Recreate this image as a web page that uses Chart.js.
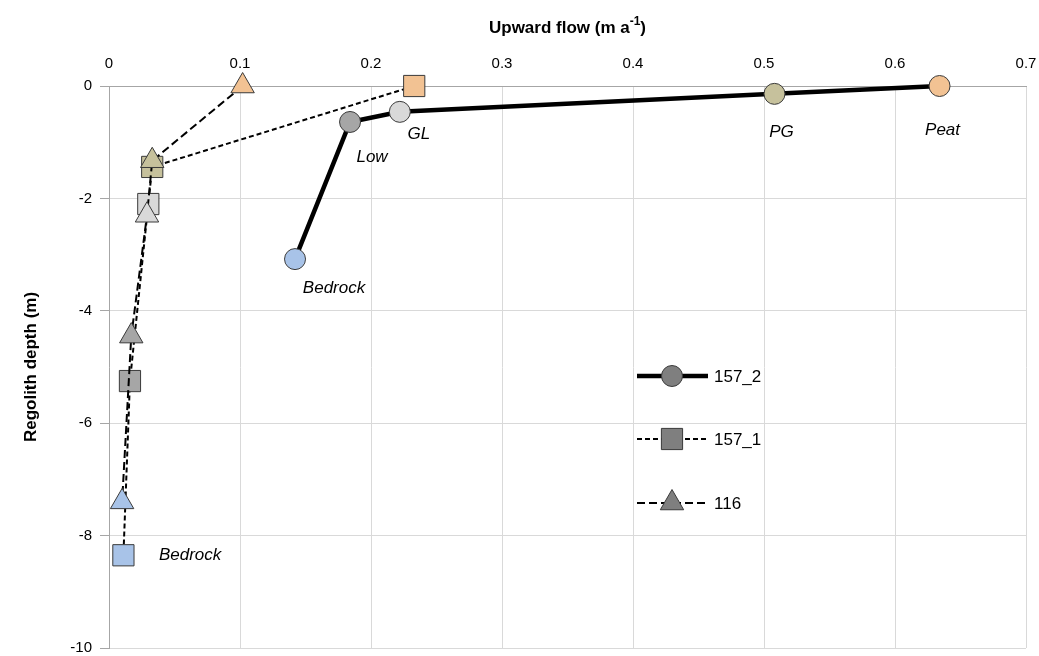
<!DOCTYPE html>
<html>
<head>
<meta charset="utf-8">
<script src="https://cdn.jsdelivr.net/npm/chart.js@4.4.1/dist/chart.umd.min.js"></script>
<style>
  html, body { margin: 0; padding: 0; background: #fff; }
  #wrap { width: 1039px; height: 656px; }
</style>
</head>
<body>
<div id="wrap"><canvas id="myChart" width="1039" height="656"></canvas></div>
<script>
// data: x = upward flow (m/a), y = regolith depth (m)
var layers = ["Peat", "PG", "GL", "Low", "Bedrock"];
var layerColors = ["#F2C293", "#C6C19C", "#D9D9D9", "#A6A6A6", "#A8C3E8"];

var flow157_2 = [0.634, 0.508, 0.222, 0.184, 0.142];
var depth157_2 = [0, -0.14, -0.46, -0.64, -3.08];

var flow157_1 = [0.233, 0.033, 0.030, 0.016, 0.011];
var depth157_1 = [0, -1.44, -2.10, -5.25, -8.35];

var flow116 = [0.102, 0.033, 0.029, 0.017, 0.010];
var depth116 = [0, -1.33, -2.30, -4.45, -7.40];

var xTicks = [0, 0.1, 0.2, 0.3, 0.4, 0.5, 0.6, 0.7];
var yTicks = [0, -2, -4, -6, -8, -10];

function pts(xs, ys) {
    return xs.map(function (x, i) { return { x: x, y: ys[i] } })
}

// layer labels next to points: [dataset index, point index, text, dx, dy]
var pointLabels = [
    [0, 0, "Peat", 3, 44],
    [0, 1, "PG", 7, 38],
    [0, 2, "GL", 19, 22],
    [0, 3, "Low", 22, 35],
    [0, 4, "Bedrock", 39, 29],
    [2, 4, "Bedrock", 68, 53]
]

var font = "'Liberation Sans', Arial, sans-serif"

var extras = {
    id: 'extras',
    afterDraw: function (chart) {
        var c = chart.ctx
        var area = chart.chartArea
        c.save()
        // axis titles
        c.fillStyle = '#000'
        c.textBaseline = 'middle'
        c.font = "bold 17px " + font
        var t1 = "Upward flow (m a", sup = "-1", t2 = ")"
        var w1 = c.measureText(t1).width
        c.font = "bold 12px " + font
        var ws = c.measureText(sup).width
        c.font = "bold 17px " + font
        var w2 = c.measureText(t2).width
        var x0 = (area.left + area.right) / 2 - (w1 + ws + w2) / 2
        c.textAlign = 'left'
        c.fillText(t1, x0, 28)
        c.font = "bold 12px " + font
        c.fillText(sup, x0 + w1, 22)
        c.font = "bold 17px " + font
        c.fillText(t2, x0 + w1 + ws, 28)

        c.save()
        c.translate(31, (area.top + area.bottom) / 2)
        c.rotate(-Math.PI / 2)
        c.textAlign = 'center'
        c.fillText("Regolith depth (m)", 0, 0)
        c.restore()

        // point labels
        c.font = "italic 17px " + font
        c.textAlign = 'center'
        pointLabels.forEach(function (l) {
            var el = chart.getDatasetMeta(l[0]).data[l[1]]
            c.fillText(l[2], el.x + l[3], el.y + l[4])
        })

        // legend
        var rows = [
            { ds: 0, y: 376 },
            { ds: 1, y: 439 },
            { ds: 2, y: 503 }
        ]
        rows.forEach(function (r) {
            var d = chart.data.datasets[r.ds]
            c.save()
            c.strokeStyle = '#000'
            c.lineWidth = d.borderWidth
            c.setLineDash(d.borderDash || [])
            c.beginPath()
            c.moveTo(637, r.y)
            c.lineTo(708, r.y)
            c.stroke()
            c.restore()
            c.save()
            c.fillStyle = '#7F7F7F'
            c.strokeStyle = '#3A3A3A'
            c.lineWidth = 1
            Chart.helpers.drawPoint(c, {
                pointStyle: d.pointStyle,
                radius: d.pointRadius,
                borderWidth: 1
            }, 672, r.y)
            c.restore()
            c.fillStyle = '#000'
            c.font = "17px " + font
            c.textAlign = 'left'
            c.fillText(d.label, 714, r.y + 1)
        })
        c.restore()
    }
}

var ctx = document.getElementById('myChart')

var common = {
    showLine: true,
    clip: false,
    borderColor: '#000',
    pointBorderColor: '#3A3A3A',
    pointBorderWidth: 1,
    pointBackgroundColor: layerColors,
    pointHoverRadius: 12
}

var chart = new Chart(ctx, {
    type: 'scatter',
    data: {
        datasets: [
            Object.assign({}, common, {
                label: "157_2",
                data: pts(flow157_2, depth157_2),
                borderWidth: 4.5,
                pointStyle: 'circle',
                pointRadius: 10.5,
                order: 2
            }),
            Object.assign({}, common, {
                label: "157_1",
                data: pts(flow157_1, depth157_1),
                borderWidth: 2,
                borderDash: [5, 3],
                pointStyle: 'rect',
                pointRadius: 15,
                order: 1
            }),
            Object.assign({}, common, {
                label: "116",
                data: pts(flow116, depth116),
                borderWidth: 2,
                borderDash: [8, 4],
                pointStyle: 'triangle',
                pointRadius: 13.5,
                order: 0
            })
        ]
    },
    options: {
        responsive: false,
        animation: false,
        layout: { autoPadding: false, padding: { left: 0, top: 0, right: 13, bottom: 8 } },
        plugins: {
            legend: { display: false },
            tooltip: { enabled: false }
        },
        scales: {
            x: {
                type: 'linear',
                position: 'top',
                min: 0,
                max: 0.7,
                afterBuildTicks: function (s) { s.ticks = xTicks.map(function (v) { return { value: v } }) },
                afterFit: function (s) { s.height = 86; s.paddingLeft = 0; s.paddingRight = 0 },
                grid: { color: '#D9D9D9', lineWidth: 1, drawTicks: false },
                border: { color: '#A6A6A6' },
                ticks: {
                    padding: 13,
                    color: '#000',
                    font: { family: font, size: 15 },
                    callback: function (v) { return String(v) }
                }
            },
            y: {
                type: 'linear',
                min: -10,
                max: 0,
                afterBuildTicks: function (s) { s.ticks = yTicks.map(function (v) { return { value: v } }) },
                afterFit: function (s) { s.width = 109; s.paddingTop = 0; s.paddingBottom = 0 },
                grid: { color: '#D9D9D9', lineWidth: 1, tickLength: 9, tickColor: '#A6A6A6' },
                border: { color: '#A6A6A6' },
                ticks: {
                    padding: 8,
                    color: '#000',
                    font: { family: font, size: 15 }
                }
            }
        }
    },
    plugins: [extras]
})
</script>
</body>
</html>
